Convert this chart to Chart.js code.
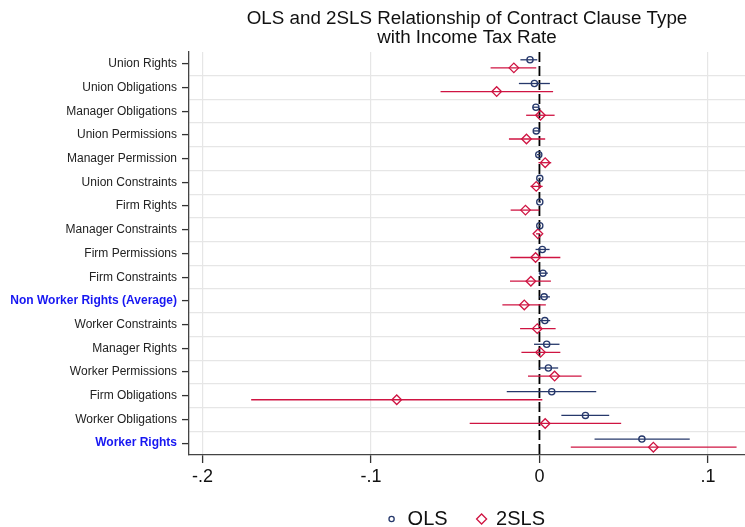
<!DOCTYPE html>
<html>
<head>
<meta charset="utf-8">
<script src="https://cdn.jsdelivr.net/npm/chart.js@4/dist/chart.umd.min.js"></script>
<style>
  html, body { margin: 0; padding: 0; background: #ffffff; }
  #wrap { width: 745px; height: 527px; }
</style>
</head>
<body>
<div id="wrap"><canvas id="c" width="745" height="527"></canvas></div>
<script>
// Contract clause types, listed top to bottom
const categories = [
  'Union Rights', 'Union Obligations', 'Manager Obligations', 'Union Permissions',
  'Manager Permission', 'Union Constraints', 'Firm Rights', 'Manager Constraints',
  'Firm Permissions', 'Firm Constraints', 'Non Worker Rights (Average)',
  'Worker Constraints', 'Manager Rights', 'Worker Permissions', 'Firm Obligations',
  'Worker Obligations', 'Worker Rights'
];
const highlighted = ['Non Worker Rights (Average)', 'Worker Rights'];

// OLS point estimates and confidence bounds
const olsEst = [-0.0056, -0.0030, -0.0021, -0.0019, -0.0004, 0.0002, 0.0002, 0.0002,
  0.0017, 0.0021, 0.0028, 0.0032, 0.0043, 0.0053, 0.0073, 0.0273, 0.0608];
const olsLo = [-0.0113, -0.0122, -0.0040, -0.0035, -0.0015, -0.0004, -0.0005, -0.0004,
  -0.0023, -0.0004, -0.0002, -0.0002, -0.0032, -0.0002, -0.0194, 0.0130, 0.0327];
const olsHi = [-0.0013, 0.0062, -0.0002, -0.0003, 0.0006, 0.0008, 0.0009, 0.0008,
  0.0060, 0.0050, 0.0062, 0.0064, 0.0119, 0.0111, 0.0337, 0.0414, 0.0892];

// 2SLS point estimates and confidence bounds
const tslsEst = [-0.0152, -0.0254, 0.0006, -0.0077, 0.0034, -0.0019, -0.0083, -0.0009,
  -0.0023, -0.0051, -0.0090, -0.0013, 0.0006, 0.0090, -0.0847, 0.0034, 0.0676];
const tslsLo = [-0.0290, -0.0587, -0.0079, -0.0181, -0.0006, -0.0053, -0.0171, -0.0020,
  -0.0173, -0.0175, -0.0220, -0.0115, -0.0107, -0.0068, -0.1711, -0.0414, 0.0186];
const tslsHi = [-0.0019, 0.0081, 0.0090, 0.0034, 0.0070, 0.0019, -0.0001, 0.0004,
  0.0124, 0.0068, 0.0038, 0.0096, 0.0124, 0.0250, 0.0017, 0.0485, 0.1170];

// Coefficient axis ticks
const xTickVals = [-0.2, -0.1, 0, 0.1];
const xTickText = ['-.2', '-.1', '0', '.1'];

const NAVY = '#26386b';
const RED = '#cf1442';
const FONT = "'Liberation Sans', Arial, Helvetica, sans-serif";
const OFFSET = 0.17; // vertical separation of the two estimators within a row

// positions 1..17 for categories, with half steps for separating grid lines
const yTickVals = [];
for (let v = 1; v <= categories.length; v += 0.5) yTickVals.push(v);

const rowY = (i, shift) => i + 1 + shift;

// horizontal confidence interval lines plus the dashed zero reference
const intervalPlugin = {
  id: 'intervals',
  beforeDatasetsDraw(chart) {
    const { ctx, scales: { x, y }, chartArea } = chart;
    ctx.save();
    // zero line
    const x0 = x.getPixelForValue(0);
    ctx.strokeStyle = '#000000';
    ctx.lineWidth = 1.8;
    ctx.setLineDash([10, 4]);
    ctx.beginPath();
    ctx.moveTo(x0, chartArea.top);
    ctx.lineTo(x0, chartArea.bottom);
    ctx.stroke();
    ctx.setLineDash([]);
    // intervals
    chart.data.datasets.forEach(ds => {
      ctx.strokeStyle = ds.borderColor;
      ctx.lineWidth = 1.3;
      ds.ciLow.forEach((lo, i) => {
        const py = y.getPixelForValue(rowY(i, ds.shift));
        ctx.beginPath();
        ctx.moveTo(x.getPixelForValue(lo), py);
        ctx.lineTo(x.getPixelForValue(ds.ciHigh[i]), py);
        ctx.stroke();
      });
    });
    ctx.restore();
  }
};

// legend row centred under the plot area
const legendPlugin = {
  id: 'bottomLegend',
  afterDraw(chart) {
    const { ctx, chartArea } = chart;
    ctx.save();
    ctx.font = '20px ' + FONT;
    ctx.textBaseline = 'middle';
    ctx.textAlign = 'left';
    const w1 = ctx.measureText('OLS').width;
    const w2 = ctx.measureText('2SLS').width;
    // circle | gap | OLS | gap | diamond | gap | 2SLS
    const total = 2.6 + 16 + w1 + 34 + 14.5 + w2;
    const cx = (chartArea.left + chartArea.right) / 2;
    const yy = 519;
    const c1 = cx - total / 2 + 2.6;
    ctx.lineWidth = 1.3;
    ctx.strokeStyle = NAVY;
    ctx.beginPath();
    ctx.arc(c1, yy, 2.6, 0, Math.PI * 2);
    ctx.stroke();
    ctx.fillStyle = '#111111';
    ctx.fillText('OLS', c1 + 16, yy);
    const c2 = c1 + 16 + w1 + 34;
    ctx.strokeStyle = RED;
    ctx.beginPath();
    ctx.moveTo(c2 - 5, yy);
    ctx.lineTo(c2, yy - 5);
    ctx.lineTo(c2 + 5, yy);
    ctx.lineTo(c2, yy + 5);
    ctx.closePath();
    ctx.stroke();
    ctx.fillText('2SLS', c2 + 14.5, yy);
    ctx.restore();
  }
};

new Chart(document.getElementById('c'), {
  type: 'scatter',
  data: {
    datasets: [
      {
        label: 'OLS',
        data: olsEst.map((v, i) => ({ x: v, y: rowY(i, -OFFSET) })),
        ciLow: olsLo, ciHigh: olsHi, shift: -OFFSET,
        pointStyle: 'circle', pointRadius: 3.1, borderWidth: 1.3,
        borderColor: NAVY, backgroundColor: 'rgba(0,0,0,0)'
      },
      {
        label: '2SLS',
        data: tslsEst.map((v, i) => ({ x: v, y: rowY(i, OFFSET) })),
        ciLow: tslsLo, ciHigh: tslsHi, shift: OFFSET,
        pointStyle: 'rectRot', pointRadius: 4.8, borderWidth: 1.3,
        borderColor: RED, backgroundColor: 'rgba(0,0,0,0)'
      }
    ]
  },
  options: {
    responsive: false,
    animation: false,
    devicePixelRatio: 1,
    layout: { autoPadding: false, padding: { left: 0, right: 0, top: 0, bottom: 0 } },
    plugins: {
      legend: { display: false },
      tooltip: { enabled: false },
      title: {
        display: true,
        fullSize: false,
        text: ['OLS and 2SLS Relationship of Contract Clause Type', 'with Income Tax Rate'],
        color: '#111111',
        font: { family: FONT, size: 18.8, weight: 'normal', lineHeight: 0.97 },
        padding: { top: 10, bottom: 5.5 }
      }
    },
    scales: {
      x: {
        type: 'linear',
        min: -0.208,
        max: 0.122,
        afterBuildTicks: s => { s.ticks = xTickVals.map(v => ({ value: v })); },
        afterFit: s => { s.height = 72; },
        ticks: {
          autoSkip: false,
          maxRotation: 0,
          padding: 3,
          color: '#111111',
          font: { family: FONT, size: 18 },
          callback: v => {
            const k = xTickVals.findIndex(t => Math.abs(t - v) < 1e-9);
            return k >= 0 ? xTickText[k] : '';
          }
        },
        grid: {
          color: ctx => (ctx.tick && Math.abs(ctx.tick.value) < 1e-9) ? 'rgba(0,0,0,0)' : '#e6e6e6',
          lineWidth: 1.2,
          tickColor: '#333333',
          tickLength: 8,
          tickWidth: 1.3
        },
        border: { color: '#444444', width: 1.3 }
      },
      y: {
        type: 'linear',
        min: 0.5,
        max: categories.length + 0.5,
        reverse: true,
        afterBuildTicks: s => { s.ticks = yTickVals.map(v => ({ value: v })); },
        afterFit: s => { s.width = 189; },
        ticks: {
          autoSkip: false,
          padding: 5,
          callback: v => Number.isInteger(v) ? categories[v - 1] : '',
          color: ctx => {
            const v = ctx.tick ? ctx.tick.value : 0;
            return Number.isInteger(v) && highlighted.includes(categories[v - 1]) ? '#1717f2' : '#222222';
          },
          font: ctx => {
            const v = ctx.tick ? ctx.tick.value : 0;
            const bold = Number.isInteger(v) && highlighted.includes(categories[v - 1]);
            return { family: FONT, size: 12, weight: bold ? 'bold' : 'normal' };
          }
        },
        grid: {
          color: ctx => (ctx.tick && !Number.isInteger(ctx.tick.value)) ? '#e6e6e6' : 'rgba(0,0,0,0)',
          lineWidth: 1.2,
          tickColor: ctx => (ctx.tick && Number.isInteger(ctx.tick.value)) ? '#333333' : 'rgba(0,0,0,0)',
          tickLength: 7,
          tickWidth: 1.3
        },
        border: { color: '#444444', width: 1.3 }
      }
    }
  },
  plugins: [intervalPlugin, legendPlugin]
});
</script>
</body>
</html>
